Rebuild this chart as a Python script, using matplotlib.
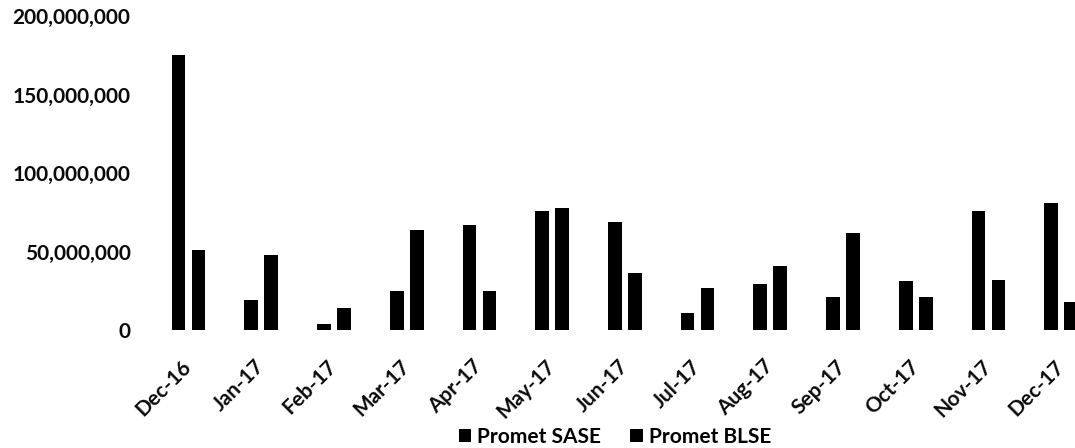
import numpy as np
import matplotlib.pyplot as plt
from matplotlib.ticker import FuncFormatter

# =====================================================
# DATA (readings)
# =====================================================

months = ["Dec-16", "Jan-17", "Feb-17", "Mar-17", "Apr-17", "May-17", "Jun-17",
          "Jul-17", "Aug-17", "Sep-17", "Oct-17", "Nov-17", "Dec-17"]

promet_sase = [175e6, 19e6, 4e6, 25e6, 67e6, 76e6, 69e6,
               11e6, 29e6, 21e6, 31e6, 76e6, 81e6]

promet_blse = [51e6, 48e6, 14e6, 64e6, 25e6, 78e6, 36e6,
               27e6, 41e6, 62e6, 21e6, 32e6, 18e6]

# =====================================================
# PLOT
# =====================================================

plt.rcParams['font.family'] = ['Lato', 'DejaVu Sans']
plt.rcParams['font.weight'] = 'bold'

fig = plt.figure(figsize=(10.75, 4.48), dpi=100)
ax = fig.add_axes([150/1075, 0.2634, 1 - 150/1075, 0.9643 - 0.2634])

x = np.arange(len(months))
w = 0.19
off = 0.1375

ax.bar(x - off, promet_sase, width=w, color="#000000", label="Promet SASE")
ax.bar(x + off, promet_blse, width=w, color="#000000", label="Promet BLSE")

ax.set_ylim(0, 200e6)
ax.set_yticks([0, 50e6, 100e6, 150e6, 200e6])
ax.yaxis.set_major_formatter(FuncFormatter(lambda v, p: f"{v:,.0f}"))
ax.set_xlim(-0.53, 12.19)

ax.set_xticks(x)
ax.set_xticklabels(months, rotation=45, ha="right", va="center",
                   rotation_mode="anchor")

ax.tick_params(axis="y", length=0, pad=14, labelsize=15, labelcolor="#0a0a0a")
ax.tick_params(axis="x", length=0, pad=24, labelsize=15, labelcolor="#0a0a0a")

for s in ax.spines.values():
    s.set_visible(False)

fig.legend(loc="center", bbox_to_anchor=(0.572, 0.025), ncol=2, frameon=False,
           handlelength=0.6, handleheight=0.6, handletextpad=0.3,
           columnspacing=1.4, fontsize=15)

plt.savefig("out.png", dpi=100)
